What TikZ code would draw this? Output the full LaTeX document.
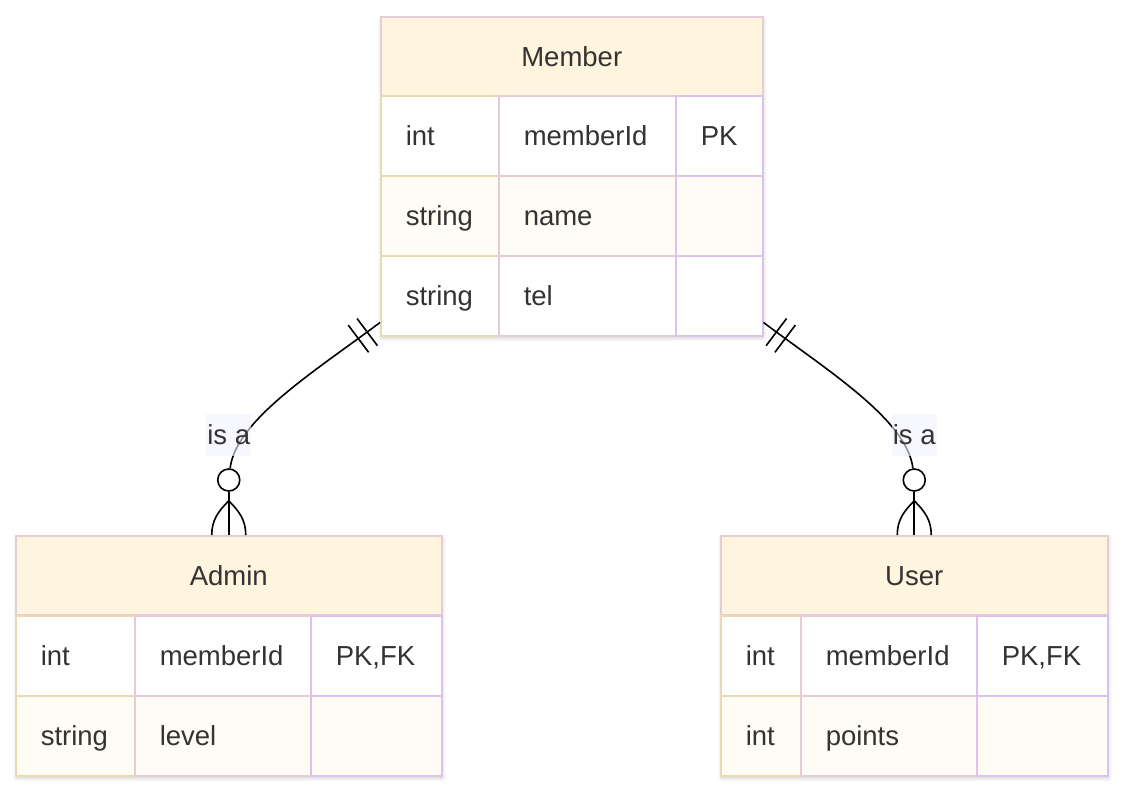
\documentclass[tikz,border=0pt]{standalone}
\usepackage{fontspec}
\setmainfont{Liberation Sans}
\usepackage{xcolor}
\usepackage{tikz}
\usetikzlibrary{positioning,calc,shadows.blur}

\definecolor{erhead}{HTML}{FFF4DD}
\definecolor{errow}{HTML}{FFFBF5}
\definecolor{ertan}{HTML}{EAD9B5}
\definecolor{ermid}{HTML}{E5CCD6}
\definecolor{erlav}{HTML}{DEC0EE}
\definecolor{ertext}{HTML}{333333}
\definecolor{erlabel}{HTML}{F2F2FF}

\begin{document}
\begin{tikzpicture}[x=1pt, y=-1pt,
    every node/.style={text=ertext, font=\fontsize{27.5}{33}\selectfont},
    head/.style={rectangle, draw=ermid, line width=1.5pt, fill=erhead, anchor=north west,
        minimum height=79pt, inner sep=0pt, text height=20pt, text depth=0pt},
    cell/.style={rectangle, line width=1.5pt, anchor=north west, minimum height=80pt,
        inner xsep=25pt, inner ysep=0pt, align=left, text height=20pt, text depth=0pt},
    box/.style={fill=white, blur shadow={shadow xshift=1.5pt, shadow yshift=-3pt,
        shadow blur radius=4pt, shadow opacity=18}},
    rel/.style={draw=black, line width=1.6pt},
    nought/.style={circle, draw=black, line width=1.6pt, fill=white, minimum size=22pt, inner sep=0pt},
    islabel/.style={fill=erlabel, fill opacity=0.6, text opacity=1, inner xsep=1pt, minimum height=42pt}]
    \useasboundingbox (0,0) rectangle (1123,790);

    % Member
    \path[box] (380,16) rectangle (762,335);
    \node[head, minimum width=382pt] (member) at (380,16) {Member};
    \foreach \t/\n/\k/\f [count=\r] in {int/memberId/PK/white, string/name//errow, string/tel//white} {
        \node[cell, fill=\f, draw=ertan, text width=68pt] (member-t\r) at (380,15+80*\r) {\t};
        \node[cell, fill=\f, draw=ermid, text width=127pt] (member-n\r) at (498,15+80*\r) {\n};
        \node[cell, fill=\f, draw=erlav, text width=37pt] (member-k\r) at (675,15+80*\r) {\k};
    }

    % Admin
    \path[box] (15,535) rectangle (441,775);
    \node[head, minimum width=426pt] (admin) at (15,535) {Admin};
    \foreach \t/\n/\k/\f [count=\r] in {int/memberId/{PK,FK}/white, string/level//errow} {
        \node[cell, fill=\f, draw=ertan, text width=69pt] (admin-t\r) at (15,535+80*\r) {\t};
        \node[cell, fill=\f, draw=ermid, text width=126pt] (admin-n\r) at (134,535+80*\r) {\n};
        \node[cell, fill=\f, draw=erlav, text width=81pt] (admin-k\r) at (310,535+80*\r) {\k};
    }

    % User
    \path[box] (720,535) rectangle (1107,775);
    \node[head, minimum width=387pt] (user) at (720,535) {User};
    \foreach \t/\n/\k/\f [count=\r] in {int/memberId/{PK,FK}/white, int/points//errow} {
        \node[cell, fill=\f, draw=ertan, text width=30pt] (user-t\r) at (720,535+80*\r) {\t};
        \node[cell, fill=\f, draw=ermid, text width=126pt] (user-n\r) at (800,535+80*\r) {\n};
        \node[cell, fill=\f, draw=erlav, text width=81pt] (user-k\r) at (976,535+80*\r) {\k};
    }

    % Member -- Admin
    \coordinate (ml) at ([yshift=14pt]member-t3.south west);
    \coordinate (mlc) at ($(ml)+(-64,48)$);
    \node[nought] (ca) at ([yshift=55pt]admin.north) {};
    \draw[rel] (ml) .. controls (mlc) and +(7,-60) .. (ca);
    \coordinate (mla) at ($(ml)!16pt!(mlc)$);
    \coordinate (mlb) at ($(ml)!27pt!(mlc)$);
    \draw[rel] ($(mla)!17pt!90:(mlc)$) -- ($(mla)!17pt!-90:(mlc)$);
    \draw[rel] ($(mlb)!17pt!90:(mlc)$) -- ($(mlb)!17pt!-90:(mlc)$);
    \draw[rel] (ca.south) -- (admin.north);
    \draw[rel] ([yshift=-9pt]ca.south) to[out=-135, in=90] ([xshift=-17pt]admin.north);
    \draw[rel] ([yshift=-9pt]ca.south) to[out=-45, in=90] ([xshift=17pt]admin.north);
    \node[islabel] (la) at ([yshift=45pt]ca.center) {is a};

    % Member -- User
    \coordinate (mr) at ([yshift=14pt]member-k3.south east);
    \coordinate (mrc) at ($(mr)+(64,48)$);
    \node[nought] (cu) at ([yshift=55pt]user.north) {};
    \draw[rel] (mr) .. controls (mrc) and +(-7,-60) .. (cu);
    \coordinate (mra) at ($(mr)!16pt!(mrc)$);
    \coordinate (mrb) at ($(mr)!27pt!(mrc)$);
    \draw[rel] ($(mra)!17pt!90:(mrc)$) -- ($(mra)!17pt!-90:(mrc)$);
    \draw[rel] ($(mrb)!17pt!90:(mrc)$) -- ($(mrb)!17pt!-90:(mrc)$);
    \draw[rel] (cu.south) -- (user.north);
    \draw[rel] ([yshift=-9pt]cu.south) to[out=-135, in=90] ([xshift=-17pt]user.north);
    \draw[rel] ([yshift=-9pt]cu.south) to[out=-45, in=90] ([xshift=17pt]user.north);
    \node[islabel] (lu) at ([yshift=45pt]cu.center) {is a};
\end{tikzpicture}
\end{document}
